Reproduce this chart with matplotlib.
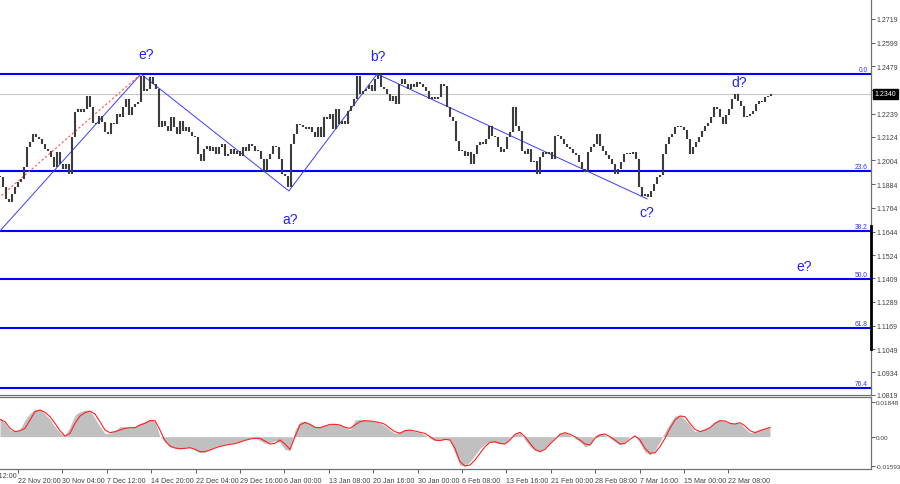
import numpy as np
import matplotlib
matplotlib.use('Agg')
import matplotlib.pyplot as plt
import matplotlib.transforms as mtransforms
from matplotlib.lines import Line2D

# closing prices, one per bar
closes = [
    1.1921, 1.1871, 1.1810, 1.1795, 1.1835, 1.1871, 1.1896, 1.1911, 1.1972, 1.2073,
    1.2098, 1.2138, 1.2123, 1.2113, 1.2088, 1.2063, 1.2052, 1.2022, 1.1972, 1.2047,
    1.1987, 1.1962, 1.1987, 1.1936, 1.2123, 1.2249, 1.2264, 1.2249, 1.2264, 1.2330,
    1.2275, 1.2194, 1.2189, 1.2229, 1.2199, 1.2148, 1.2138, 1.2194, 1.2189, 1.2239,
    1.2224, 1.2275, 1.2315, 1.2234,
    1.2275, 1.2290, 1.2300, 1.2431, 1.2355, 1.2366, 1.2426, 1.2391, 1.2366, 1.2174,
    1.2204, 1.2179, 1.2153, 1.2224, 1.2174, 1.2138, 1.2204, 1.2153, 1.2174, 1.2148,
    1.2128, 1.2123, 1.2037, 1.2002, 1.2063, 1.2078, 1.2052, 1.2073, 1.2037, 1.2073,
    1.2088, 1.2027, 1.2037, 1.2063, 1.2037, 1.2052, 1.2027, 1.2073, 1.2052, 1.2088,
    1.2078, 1.2052, 1.2052,
    1.2012, 1.1951, 1.2012, 1.2037, 1.2078, 1.2073, 1.2012, 1.1936, 1.1926, 1.1871,
    1.2088, 1.2138, 1.2189, 1.2184, 1.2174, 1.2164, 1.2174, 1.2148, 1.2123, 1.2174,
    1.2123, 1.2224, 1.2214, 1.2239, 1.2164, 1.2264, 1.2189, 1.2204, 1.2189, 1.2254,
    1.2280, 1.2315, 1.2431, 1.2340, 1.2355, 1.2366, 1.2386, 1.2355, 1.2416, 1.2441,
    1.2376, 1.2366, 1.2340,
    1.2305, 1.2330, 1.2290, 1.2391, 1.2416, 1.2391, 1.2366, 1.2391, 1.2376, 1.2401,
    1.2391, 1.2376, 1.2355, 1.2315, 1.2325, 1.2315, 1.2325, 1.2391, 1.2381, 1.2275,
    1.2224, 1.2204, 1.2103, 1.2052, 1.2052, 1.2027, 1.2047, 1.1987, 1.2037, 1.2083,
    1.2098, 1.2088, 1.2113, 1.2179, 1.2128, 1.2123, 1.2073, 1.2047, 1.2063, 1.2123,
    1.2148, 1.2275, 1.2179, 1.2153,
    1.2052, 1.2037, 1.2063, 1.1997, 1.2002, 1.1936, 1.2022, 1.2047, 1.2037, 1.2047,
    1.2012, 1.2128, 1.2128, 1.2113, 1.2088, 1.2073, 1.2063, 1.2042, 1.2032, 1.1997,
    1.1962, 1.1946, 1.2047, 1.2073, 1.2088, 1.2138, 1.2078, 1.2052, 1.2032, 1.2012,
    1.1987, 1.1936, 1.1962, 1.1997, 1.2037, 1.2042, 1.2037, 1.2047, 1.2012, 1.1871,
    1.1825, 1.1835, 1.1820,
    1.1850, 1.1886, 1.1921, 1.1931, 1.2037, 1.2088, 1.2123, 1.2138, 1.2174, 1.2179,
    1.2174, 1.2158, 1.2113, 1.2037, 1.2073, 1.2098, 1.2123, 1.2153, 1.2179, 1.2194,
    1.2224, 1.2275, 1.2264, 1.2224, 1.2189, 1.2234, 1.2264, 1.2315, 1.2340, 1.2305,
    1.2280, 1.2224, 1.2229, 1.2239, 1.2254, 1.2290, 1.2305, 1.2300, 1.2325, 1.2330,
    1.2340,
]

# MACD main (grey histogram) and signal (red), in 1e-3 units
macd_e3 = [
    9.85, 7.16, 3.58, 2.69, 3.94, 8.95, 12.53, 14.68, 14.68, 12.17,
    9.31, 5.37, 2.15, 0.36, 5.37, 11.64, 13.43, 14.32, 13.96, 9.85,
    5.37, 1.79, 1.79, 3.22, 5.37, 5.37, 4.83, 5.37, 7.16, 8.06,
    9.31, 8.06, 0.0, -2.69, -5.37, -6.09, -6.62, -5.73, -5.73, -7.16,
    -8.59, -8.23, -6.62, -5.37, -4.65, -4.12, -3.58, -3.22, -2.33, -1.43,
    -0.90, -0.54, -2.15, -3.58, -3.22, -2.15, -3.22, -6.80, -7.52, 3.58,
    8.06, 8.06, 7.16, 5.37, 5.37, 6.27, 6.62, 6.62, 6.27, 5.01,
    3.58, 8.95, 9.31, 8.95, 8.59, 8.06, 7.16, 5.73, 3.58, 1.79,
    2.69, 3.94, 3.58, 2.69, 2.15, 0.90, -0.90, -2.15, -1.79, -1.43,
    -1.79, -8.95, -15.22, -15.75, -13.43, -9.85, -6.27, -3.94, -2.69, -3.22,
    -3.94, -3.58, -0.90, 1.79, 2.15, -1.79, -5.37, -7.52, -8.06, -5.73,
    -3.22, -0.36, 1.79, 2.15, 0.90, -0.90, -2.69, -5.37, -4.48, 0.90,
    1.79, 0.90, -0.90, -2.69, -4.48, -2.69, 0.0, 0.90, -3.58, -8.06,
    -9.85, -7.16, -2.69, 2.69, 7.16, 11.10, 11.64, 8.95, 6.27, 2.69,
    3.22, 3.94, 5.37, 8.06, 8.95, 8.06, 7.16, 7.16, 7.16, 4.48,
    2.15, 2.69, 3.94, 4.48, 5.01,
]
signal_e3 = [
    9.31, 8.06, 4.48, 2.69, 3.22, 4.48, 8.95, 13.43, 14.32, 13.07,
    10.74, 7.16, 3.22, 0.36, 1.79, 7.16, 11.10, 12.89, 13.78, 12.17,
    8.06, 3.58, 2.15, 2.69, 3.58, 4.48, 4.83, 4.83, 6.27, 7.16,
    8.59, 8.59, 3.58, -2.15, -5.01, -6.09, -6.44, -6.27, -5.91, -6.80,
    -8.06, -8.06, -7.16, -6.09, -5.19, -4.65, -4.12, -3.76, -2.86, -1.97,
    -1.25, -0.90, -0.90, -2.33, -3.94, -3.58, -1.79, -3.94, -6.80, 0.0,
    6.27, 7.70, 6.62, 5.01, 4.83, 5.73, 6.62, 6.62, 6.27, 5.01,
    4.48, 6.27, 8.06, 8.59, 8.41, 8.06, 7.52, 6.62, 4.48, 2.69,
    1.79, 3.22, 3.58, 3.04, 2.33, 1.79, 0.0, -1.79, -2.15, -1.43,
    -1.79, -6.27, -13.43, -15.75, -15.22, -12.53, -8.95, -5.37, -3.04, -2.69,
    -3.58, -3.94, -1.79, 1.25, 2.33, 0.0, -3.58, -6.80, -8.06, -6.80,
    -3.94, -1.43, 1.25, 2.15, 1.25, 0.0, -1.79, -3.94, -4.48, -0.90,
    0.90, 1.43, 0.0, -1.79, -3.94, -3.58, -1.43, 0.36, -1.79, -6.27,
    -8.95, -8.59, -5.37, -0.90, 4.48, 8.95, 11.10, 10.74, 7.16, 3.94,
    2.69, 3.58, 4.83, 7.16, 8.59, 8.41, 7.16, 6.80, 7.52, 5.73,
    3.22, 2.15, 3.22, 4.12, 5.01,
]

price_ticks = [1.2719, 1.2599, 1.2479, 1.2359, 1.2239, 1.2124, 1.2004, 1.1884, 1.1764,
               1.1644, 1.1524, 1.1409, 1.1289, 1.1169, 1.1049, 1.0934, 1.0819]
date_labels = ['15 Nov 12:00', '22 Nov 20:00', '30 Nov 04:00', '7 Dec 12:00', '14 Dec 20:00',
               '22 Dec 04:00', '29 Dec 16:00', '6 Jan 00:00', '13 Jan 08:00', '20 Jan 16:00',
               '30 Jan 00:00', '6 Feb 08:00', '13 Feb 16:00', '21 Feb 00:00', '28 Feb 08:00',
               '7 Mar 16:00', '15 Mar 00:00', '22 Mar 08:00']

fib_names = ['0.0', '23.6', '38.2', '50.0', '61.8', '76.4']
fib_pct = [0.0, 23.6, 38.2, 50.0, 61.8, 76.4]
fib_top = 1.2441
fib_span = 0.2076

# wave count pivots (bar index, price)
wave_bar = [0, 47, 96.3, 125.7, 215.7]
wave_price = [1.1648, 1.2441, 1.1850, 1.2441, 1.1810]
dash_bar = [0.5, 47]
dash_price = [1.1827, 1.2441]
wave_labels = ['e?', 'a?', 'b?', 'c?', 'd?', 'e?']
label_bar = [48.7, 96.7, 126.0, 215.7, 246.3, 268.0]
label_price = [1.2542, 1.1709, 1.2532, 1.1744, 1.2401, 1.1472]

last_price = 1.2340

plt.rcParams['font.family'] = ['Liberation Sans', 'DejaVu Sans']
fs_y = 5.0
fs_x = 5.1
fs_m = 4.6
W, H = 900, 485
fig = plt.figure(figsize=(9, 4.85), dpi=100)
ax = fig.add_axes([0, 1 - 396 / H, 871 / W, 396 / H])
axm = fig.add_axes([0, 1 - 470 / H, 871 / W, 72 / H], sharex=ax)

x = np.arange(len(closes))
c = np.array(closes)
o = np.r_[c[0], c[:-1]]
lo = np.minimum(o, c)
hi = np.maximum(o, c)
hi = np.where(hi - lo < 0.0004, lo + 0.0004, hi)

# fib levels
for name, pct in zip(fib_names, fib_pct):
    lvl = fib_top - fib_span * pct / 100
    ax.axhline(lvl, color='#0000ff', lw=1.5, zorder=2)
    ax.text(289.3, lvl + 0.0006, name, color='#3030ff', fontsize=4.8, ha='right', va='bottom')

ax.axhline(last_price, color='#c8c8c8', lw=0.8, zorder=1)

ax.plot(wave_bar, wave_price, color='#3b3bff', lw=0.7, zorder=3)
ax.plot(dash_bar, dash_price, color='#ff5050', lw=0.8, ls=(0, (2, 2)), zorder=3)

ax.vlines(x, lo, hi, color='#3c3c3c', lw=1.5, zorder=4)

for t, bx, p in zip(wave_labels, label_bar, label_price):
    ax.text(bx, p, t, color='#2020ff', fontsize=10, ha='center', va='center', zorder=5)

ax.set_xlim(0, 871 / 3)
ax.set_ylim(1.0820, 1.2820)
ax.yaxis.tick_right()
ax.set_yticks(price_ticks)
ax.set_yticklabels(['%.4f' % v for v in price_ticks])
ax.tick_params(axis='y', length=3, width=0.6, pad=1, labelsize=fs_y, colors='#404040')
ax.tick_params(axis='x', bottom=False, labelbottom=False)
for s in ['top', 'left']:
    ax.spines[s].set_visible(False)
for s in ['right', 'bottom']:
    ax.spines[s].set_color('#707070')
    ax.spines[s].set_linewidth(0.9)

tr = mtransforms.blended_transform_factory(ax.transAxes, ax.transData)
ax.text(1.004, last_price, '%.4f' % last_price, transform=tr, fontsize=fs_y, color='white',
        ha='left', va='center', zorder=6,
        bbox=dict(boxstyle='square,pad=0.25', facecolor='black', edgecolor='black'))

fig.add_artist(Line2D([871 / W, 871 / W], [1 - 227 / H, 1 - 350 / H], color='black', lw=2))

# MACD panel
mx = np.arange(len(macd_e3)) * 5 / 3
axm.fill_between(mx, 0, np.array(macd_e3) / 1000, color='#c0c0c0', lw=0)
axm.plot(mx, np.array(signal_e3) / 1000, color='#ff2020', lw=0.8)
axm.set_ylim(-0.01735, 0.0213)
axm.yaxis.tick_right()
axm.set_yticks([0.01848, 0.0, -0.01593])
axm.set_yticklabels(['0.01848', '0.00', '-0.01593'])
axm.tick_params(axis='y', length=3, width=0.6, pad=0.5, labelsize=fs_m, colors='#404040')
axm.spines['left'].set_visible(False)
for s in ['top', 'right', 'bottom']:
    axm.spines[s].set_color('#707070')
    axm.spines[s].set_linewidth(0.9)

tick_pos = 6 + 14.8 * np.arange(-1, len(date_labels) - 1)
axm.set_xticks(tick_pos[1:])
axm.set_xticklabels(date_labels[1:], ha='left')
axm.tick_params(axis='x', length=3, width=0.6, pad=2.5, labelsize=fs_x, colors='#404040')
axm.text(tick_pos[0], -0.0192, date_labels[0], fontsize=fs_x, color='#404040', ha='left',
         va='top', clip_on=False)
axm.set_xlim(0, 871 / 3)

fig.savefig('out.png', dpi=100, facecolor='white')
